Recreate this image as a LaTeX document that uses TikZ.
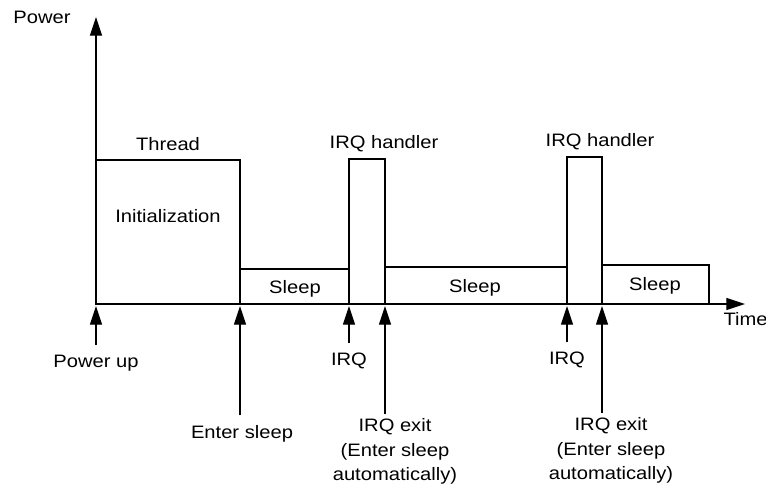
\documentclass[tikz,border=0pt]{standalone}
\usepackage{fontspec}
\setmainfont{Liberation Sans}[FakeStretch=1.12]
\usetikzlibrary{arrows.meta,calc}

\begin{document}
\begin{tikzpicture}[x=0.75pt, y=-0.75pt,
    every node/.style={font=\fontsize{13.5}{18.4}\selectfont, inner sep=1pt},
    axis/.style={line width=0.8pt, -{Triangle[length=14pt,width=9pt]}},
    evt/.style={line width=0.8pt, -{Triangle[length=14pt,width=9pt]}, shorten <=6pt},
    box/.style={line width=0.8pt}]
    \useasboundingbox (0,0) rectangle (766,486);

    % Axes
    \coordinate (O) at (96,304);
    \coordinate (ytop) at (96,17);
    \coordinate (xend) at (745,304);
    \draw[axis] (O) -- (ytop);
    \draw[axis] (O) -- (xend);
    \node[anchor=base] (power) at (42,23) {Power};
    \node[anchor=base west] (time) at (722,325) {Time};

    % Thread
    \draw[box] (96,160) rectangle (240,304);
    \node[anchor=base] (thread) at (168,150) {Thread};
    \node[anchor=base] (init) at (168,222) {Initialization};

    % IRQ handlers
    \draw[box] (349,159) rectangle (385,304);
    \draw[box] (567,157) rectangle (602,304);
    \node[anchor=base] (hdl1) at (384,148) {IRQ handler};
    \node[anchor=base] (hdl2) at (600,146) {IRQ handler};

    % Sleep
    \draw[box] (240,269) rectangle (349,304);
    \draw[box] (385,267) rectangle (567,304);
    \draw[box] (602,265) rectangle (709,304);
    \node[anchor=base] (sleep1) at (295,293) {Sleep};
    \node[anchor=base] (sleep2) at (475,292) {Sleep};
    \node[anchor=base] (sleep3) at (655,290) {Sleep};

    % Events
    \coordinate (pu) at (96,306);
    \coordinate (es) at (240,306);
    \coordinate (irq1) at (349,306);
    \coordinate (ex1) at (385,306);
    \coordinate (irq2) at (567,306);
    \coordinate (ex2) at (602,306);

    \node[anchor=base] (pwrup) at (96,367) {Power up};
    \node[anchor=base] (enter) at (242,438) {Enter sleep};
    \node[anchor=base] (irqa) at (349,365) {IRQ};
    \node[anchor=base] (irqb) at (567,364) {IRQ};
    \node[anchor=north, align=center] (exita) at (395,417) {IRQ exit\\(Enter sleep\\automatically)};
    \node[anchor=north, align=center] (exitb) at (611,416) {IRQ exit\\(Enter sleep\\automatically)};

    \draw[evt] (pu |- pwrup.north) -- (pu);
    \draw[evt] (es |- enter.north) -- (es);
    \draw[evt] (irq1 |- irqa.north) -- (irq1);
    \draw[evt] (irq2 |- irqb.north) -- (irq2);
    \draw[evt, shorten <=2.5pt] (ex1 |- exita.north) -- (ex1);
    \draw[evt, shorten <=2.5pt] (ex2 |- exitb.north) -- (ex2);
\end{tikzpicture}
\end{document}
